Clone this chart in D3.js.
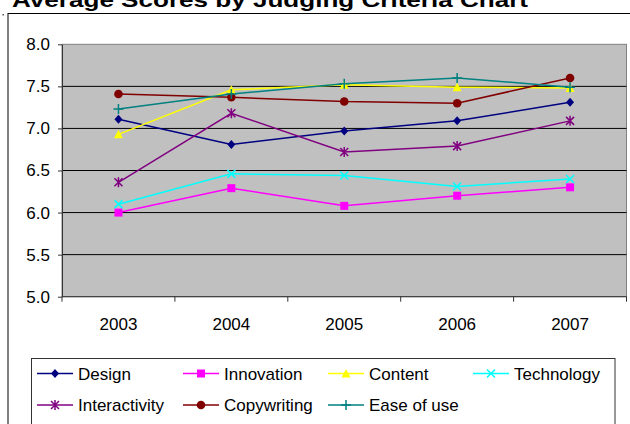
<!DOCTYPE html>
<html>
<head>
<meta charset="utf-8">
<script src="https://cdn.jsdelivr.net/npm/d3@7"></script>
<style>
  body { margin: 0; background: #fff; }
  svg { display: block; font-family: "Liberation Sans", Arial, sans-serif; }
</style>
</head>
<body>
<div id="chart"></div>
<script>
// values
var years = ["2003", "2004", "2005", "2006", "2007"];
var yTicks = [5.0, 5.5, 6.0, 6.5, 7.0, 7.5, 8.0];
var seriesNames = ["Design", "Innovation", "Content", "Technology", "Interactivity", "Copywriting", "Ease of use"];
var design        = [7.11, 6.81, 6.97, 7.09, 7.31];
var innovation    = [6.00, 6.29, 6.08, 6.20, 6.30];
var content       = [6.93, 7.46, 7.52, 7.49, 7.48];
var technology    = [6.10, 6.46, 6.44, 6.31, 6.40];
var interactivity = [6.36, 7.18, 6.72, 6.79, 7.09];
var copywriting   = [7.41, 7.37, 7.32, 7.30, 7.60];
var easeOfUse     = [7.23, 7.41, 7.53, 7.60, 7.49];

var series = [
  { name: "Design", values: design, color: "#000080", marker: "diamond" },
  { name: "Innovation", values: innovation, color: "#FF00FF", marker: "square" },
  { name: "Content", values: content, color: "#FFFF00", marker: "triangle" },
  { name: "Technology", values: technology, color: "#00FFFF", marker: "x" },
  { name: "Interactivity", values: interactivity, color: "#800080", marker: "star" },
  { name: "Copywriting", values: copywriting, color: "#800000", marker: "circle" },
  { name: "Ease of use", values: easeOfUse, color: "#008080", marker: "plus" }
];

var width = 630, height = 424;
var plot = { left: 62, right: 626.5, top: 44.3, bottom: 296.7 };

var svg = d3.select("#chart").append("svg")
    .attr("width", width)
    .attr("height", height);

// outer chart border
svg.append("rect")
    .attr("x", 8).attr("y", 13.5)
    .attr("width", 640).attr("height", 430)
    .attr("fill", "#fff")
    .attr("stroke", "#000")
    .attr("stroke-width", 1);

svg.append("rect").attr("x", 2.5).attr("y", 14).attr("width", 1.5).attr("height", 1.5).attr("fill", "#555");

svg.append("text")
    .attr("x", 12).attr("y", 7)
    .attr("font-size", 21)
    .attr("font-weight", "bold")
    .attr("fill", "#000")
    .attr("textLength", 516)
    .attr("lengthAdjust", "spacingAndGlyphs")
    .text("Average Scores by Judging Criteria Chart");

var x = d3.scaleBand().domain(years).range([plot.left, plot.right]);
var y = d3.scaleLinear().domain([5, 8]).range([plot.bottom, plot.top]);

svg.append("rect")
    .attr("x", plot.left).attr("y", plot.top)
    .attr("width", plot.right - plot.left).attr("height", plot.bottom - plot.top)
    .attr("fill", "#C0C0C0")
    .attr("stroke", "#808080")
    .attr("stroke-width", 1);

// gridlines
svg.append("g").selectAll("line")
    .data(yTicks.filter(function(d) { return d > 5 && d < 8; }))
  .enter().append("line")
    .attr("x1", plot.left).attr("x2", plot.right)
    .attr("y1", function(d) { return y(d); })
    .attr("y2", function(d) { return y(d); })
    .attr("stroke", "#000")
    .attr("stroke-width", 1);

// y axis
var yAxis = d3.axisLeft(y).tickValues(yTicks).tickFormat(d3.format(".1f")).tickSizeInner(4).tickSizeOuter(0).tickPadding(8);
var gy = svg.append("g").attr("transform", "translate(" + plot.left + ",0)").call(yAxis);
gy.select(".domain").attr("stroke", "#333");
gy.selectAll(".tick line").attr("stroke", "#333");
gy.selectAll("text").attr("font-size", 17).attr("fill", "#000").attr("font-family", null);

// x axis: ticks on category boundaries
var gx = svg.append("g").attr("transform", "translate(0," + plot.bottom + ")");
gx.append("line").attr("x1", plot.left).attr("x2", plot.right).attr("stroke", "#333");
var bounds = years.map(function(d) { return x(d); }).concat([plot.right]);
gx.selectAll(".bt").data(bounds).enter().append("line")
    .attr("x1", function(d) { return d; }).attr("x2", function(d) { return d; })
    .attr("y1", 0).attr("y2", 5)
    .attr("stroke", "#333");
gx.selectAll(".lab").data(years).enter().append("text")
    .attr("x", function(d) { return x(d) + x.bandwidth() / 2; })
    .attr("y", 33)
    .attr("text-anchor", "middle")
    .attr("font-size", 17)
    .text(function(d) { return d; });

function drawMarker(g, type, color) {
  if (type === "diamond") {
    g.append("path").attr("d", "M0,-4.5L4,0L0,4.5L-4,0Z").attr("fill", color);
  } else if (type === "square") {
    g.append("rect").attr("x", -4).attr("y", -4).attr("width", 8).attr("height", 8).attr("fill", color);
  } else if (type === "triangle") {
    g.append("path").attr("d", "M0,-4.5L4.5,4L-4.5,4Z").attr("fill", color);
  } else if (type === "circle") {
    g.append("circle").attr("r", 4.3).attr("fill", color);
  } else if (type === "x") {
    g.append("path").attr("d", "M-4,-4L4,4M-4,4L4,-4").attr("stroke", color).attr("stroke-width", 1.5);
  } else if (type === "star") {
    g.append("path").attr("d", "M-4,-4L4,4M-4,4L4,-4M0,-5L0,5").attr("stroke", color).attr("stroke-width", 1.5);
  } else if (type === "plus") {
    g.append("path").attr("d", "M-5,0L5,0M0,-5L0,5").attr("stroke", color).attr("stroke-width", 1.5);
  }
}

var line = d3.line()
    .x(function(d, i) { return x(years[i]) + x.bandwidth() / 2; })
    .y(function(d) { return y(d); });

series.forEach(function(s) {
  svg.append("path")
      .attr("d", line(s.values))
      .attr("fill", "none")
      .attr("stroke", s.color)
      .attr("stroke-width", 1.5);
});
series.forEach(function(s) {
  s.values.forEach(function(v, i) {
    var g = svg.append("g")
        .attr("transform", "translate(" + (x(years[i]) + x.bandwidth() / 2) + "," + y(v) + ")");
    drawMarker(g, s.marker, s.color);
  });
});

// legend
var legend = svg.append("g");
legend.append("rect")
    .attr("x", 31.5).attr("y", 358.5)
    .attr("width", 583.5).attr("height", 80)
    .attr("fill", "#fff")
    .attr("stroke", "#333")
    .attr("stroke-width", 1);

var colX = [37, 183, 328, 473];
var rowY = [373.5, 405];
series.forEach(function(s, i) {
  var cx = colX[i % 4], cy = rowY[Math.floor(i / 4)];
  var g = legend.append("g").attr("transform", "translate(" + cx + "," + cy + ")");
  g.append("line").attr("x1", 0).attr("x2", 36).attr("stroke", s.color).attr("stroke-width", 1.5);
  var m = g.append("g").attr("transform", "translate(18,0)");
  drawMarker(m, s.marker, s.color);
  g.append("text")
      .attr("x", 41).attr("y", 6)
      .attr("font-size", 17)
      .text(s.name);
});
</script>
</body>
</html>
